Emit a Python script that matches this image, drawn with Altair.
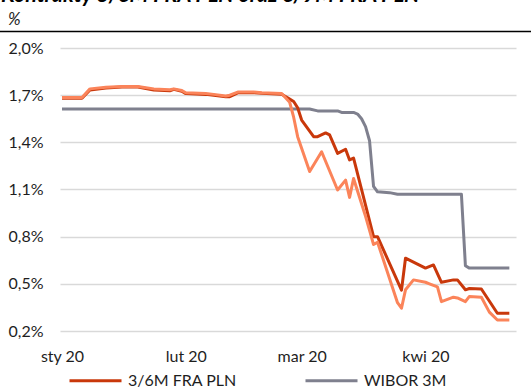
import altair as alt
import pandas as pd

# --- series values (percent) -------------------------------------------------
fra36_dates = [
    "2020-01-01", "2020-01-06", "2020-01-08", "2020-01-12", "2020-01-16",
    "2020-01-20", "2020-01-24", "2020-01-28", "2020-01-29", "2020-01-31",
    "2020-02-01", "2020-02-06", "2020-02-08", "2020-02-11", "2020-02-12",
    "2020-02-14", "2020-02-18", "2020-02-20", "2020-02-25", "2020-02-27",
    "2020-02-28", "2020-02-29", "2020-03-01", "2020-03-04", "2020-03-05",
    "2020-03-07", "2020-03-08", "2020-03-10", "2020-03-12", "2020-03-13",
    "2020-03-14", "2020-03-17", "2020-03-19", "2020-03-20", "2020-03-26",
    "2020-03-27", "2020-04-01", "2020-04-03", "2020-04-05", "2020-04-08",
    "2020-04-09", "2020-04-11", "2020-04-12", "2020-04-15", "2020-04-19",
    "2020-04-22",
]
fra36_values = [
    1.68, 1.68, 1.733, 1.745, 1.752,
    1.752, 1.733, 1.728, 1.737, 1.725,
    1.71, 1.705, 1.70, 1.69, 1.69,
    1.715, 1.716, 1.712, 1.706, 1.675,
    1.66, 1.62, 1.542, 1.436, 1.436,
    1.46, 1.447, 1.33, 1.356, 1.288,
    1.30, 1.00, 0.80, 0.80, 0.46,
    0.663, 0.60, 0.62, 0.51, 0.525,
    0.525, 0.462, 0.47, 0.467, 0.313,
    0.313,
]

fra69_dates = [
    "2020-01-01", "2020-01-06", "2020-01-08", "2020-01-12", "2020-01-16",
    "2020-01-20", "2020-01-24", "2020-01-28", "2020-01-29", "2020-01-31",
    "2020-02-01", "2020-02-06", "2020-02-08", "2020-02-11", "2020-02-12",
    "2020-02-14", "2020-02-18", "2020-02-20", "2020-02-25", "2020-02-27",
    "2020-02-28", "2020-02-29", "2020-03-03", "2020-03-06", "2020-03-10",
    "2020-03-12", "2020-03-13", "2020-03-14", "2020-03-17", "2020-03-18",
    "2020-03-19", "2020-03-20", "2020-03-25", "2020-03-26", "2020-03-27",
    "2020-03-29", "2020-04-01", "2020-04-02", "2020-04-04", "2020-04-05",
    "2020-04-08", "2020-04-09", "2020-04-11", "2020-04-12", "2020-04-15",
    "2020-04-17", "2020-04-19", "2020-04-22",
]
fra69_values = [
    1.685, 1.685, 1.74, 1.75, 1.755,
    1.755, 1.74, 1.735, 1.74, 1.73,
    1.715, 1.71, 1.705, 1.695, 1.70,
    1.72, 1.72, 1.715, 1.71, 1.655,
    1.56, 1.436, 1.214, 1.34, 1.097,
    1.16, 1.05, 1.17, 0.93, 0.84,
    0.75, 0.765, 0.38, 0.345, 0.462,
    0.525, 0.51, 0.50, 0.48, 0.387,
    0.415, 0.41, 0.387, 0.42, 0.415,
    0.32, 0.27, 0.27,
]

wibor_dates = [
    "2020-01-01", "2020-03-03", "2020-03-05", "2020-03-10", "2020-03-11",
    "2020-03-14", "2020-03-15", "2020-03-16", "2020-03-17", "2020-03-18",
    "2020-03-19", "2020-03-20", "2020-03-23", "2020-03-25", "2020-04-10",
    "2020-04-11", "2020-04-12", "2020-04-22",
]
wibor_values = [
    1.612, 1.612, 1.60, 1.60, 1.59,
    1.59, 1.58, 1.55, 1.50, 1.41,
    1.12, 1.085, 1.08, 1.07, 1.07,
    0.615, 0.60, 0.60,
]

# --- labels and styling lists -----------------------------------------------
chart_title = "Kontrakty 3/6M FRA PLN oraz 6/9M FRA PLN"
unit_label = "%"
series_names = ["3/6M FRA PLN", "WIBOR 3M", "6/9M FRA PLN"]
series_colors = ["#C9380B", "#7F808E", "#FB845A"]
month_labels = ["sty 20", "lut 20", "mar 20", "kwi 20"]
y_ticks = [0.2, 0.5, 0.8, 1.1, 1.4, 1.7, 2.0]

FONT = "Lato"
TEXT_COLOR = "#1e1e1e"

# long table; gray drawn first, then the two FRA lines on top
frames = [
    pd.DataFrame({"date": wibor_dates, "value": wibor_values, "series": series_names[1]}),
    pd.DataFrame({"date": fra36_dates, "value": fra36_values, "series": series_names[0]}),
    pd.DataFrame({"date": fra69_dates, "value": fra69_values, "series": series_names[2]}),
]
data = pd.concat(frames, ignore_index=True)

x_domain = [
    alt.DateTime(year=2019, month=12, date=31, hours=12, utc=True),
    alt.DateTime(year=2020, month=4, date=23, hours=16, utc=True),
]
month_ticks = [alt.DateTime(year=2020, month=m, date=1, utc=True) for m in range(1, 5)]
month_expr = "[" + ",".join(f"'{m}'" for m in month_labels) + "][utcmonth(datum.value)]"

lines = alt.Chart(data).mark_line(strokeWidth=3, strokeJoin="round").encode(
    x=alt.X(
        "date:T",
        scale=alt.Scale(type="utc", domain=x_domain),
        axis=alt.Axis(
            title=None, values=month_ticks, labelExpr=month_expr,
            grid=False, domain=False, ticks=False, tickSize=0,
            labelPadding=17, labelFont=FONT, labelFontSize=16,
            labelColor=TEXT_COLOR, labelFlush=False,
        ),
    ),
    y=alt.Y(
        "value:Q",
        scale=alt.Scale(domain=[0.2, 2.0], nice=False, zero=False),
        axis=alt.Axis(
            title=None, values=y_ticks,
            labelExpr="replace(format(datum.value, '.1f'), '.', ',') + '%'",
            grid=True, gridColor="#d9d9d9", gridWidth=1.5,
            domain=False, ticks=False, tickSize=0, labelPadding=17,
            labelFont=FONT, labelFontSize=16, labelColor=TEXT_COLOR,
        ),
    ),
    color=alt.Color(
        "series:N",
        scale=alt.Scale(domain=series_names, range=series_colors),
        legend=alt.Legend(
            title=None, orient="none", legendX=8, legendY=305,
            direction="horizontal", columns=2, symbolType="stroke",
            symbolSize=2704, symbolStrokeWidth=3, symbolOpacity=1,
            labelFont=FONT, labelFontSize=16, labelColor=TEXT_COLOR,
            labelOffset=5, columnPadding=62,
        ),
    ),
)

title_mark = alt.Chart(pd.DataFrame({"text": [chart_title]})).mark_text(
    align="left", baseline="alphabetic", font=FONT, fontSize=21.5,
    fontWeight="bold", fontStyle="italic", color="#000000",
).encode(text="text:N", x=alt.value(-59), y=alt.value(-46))

unit_mark = alt.Chart(pd.DataFrame({"text": [unit_label]})).mark_text(
    align="left", baseline="middle", font=FONT, fontSize=17,
    fontStyle="italic", color=TEXT_COLOR,
).encode(text="text:N", x=alt.value(-52), y=alt.value(-28))

top_rule = alt.Chart(pd.DataFrame({"k": [0]})).mark_rule(
    color="#000000", strokeWidth=1.5,
).encode(x=alt.value(-60), x2=alt.value(471), y=alt.value(-16.5))

chart = alt.layer(lines, title_mark, unit_mark, top_rule).properties(
    width=456,
    height=283,
    autosize=alt.AutoSizeParams(type="none"),
    padding={"left": 60, "top": 48, "right": 15, "bottom": 58},
    background="#ffffff",
).configure_view(stroke=None)

chart.save("out.html", embed_options={"renderer": "svg", "actions": False})
